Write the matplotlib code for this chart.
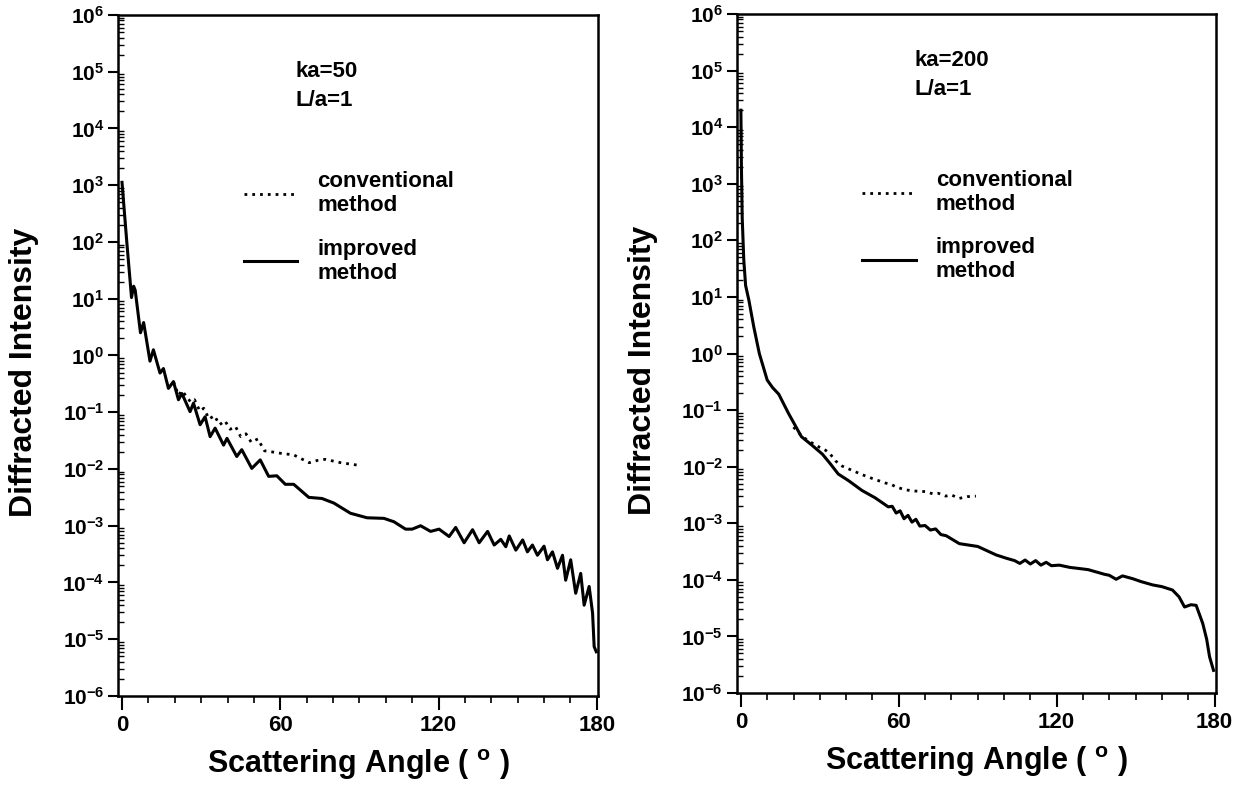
import matplotlib
matplotlib.use("Agg")
import matplotlib.pyplot as plt
import numpy as np
from matplotlib.ticker import LogLocator, MultipleLocator, NullFormatter

plt.rcParams["font.family"] = "Liberation Sans"
plt.rcParams["font.weight"] = "bold"
plt.rcParams["axes.labelweight"] = "bold"
plt.rcParams["mathtext.fontset"] = "custom"
plt.rcParams["mathtext.rm"] = "Liberation Sans:bold"
plt.rcParams["mathtext.bf"] = "Liberation Sans:bold"
plt.rcParams["mathtext.default"] = "bf"

# ---- ka=50 panel (angle in degrees, log10 of intensity) ----
KA50_IMP_ANGLE = [0, 0.6, 1.9, 3.0, 3.6, 4.4, 5.0, 7.0, 8.2, 10.6, 11.9, 14.4, 15.7,
                  17.6, 19.5, 21.4, 22.7, 25.8, 27.1, 29.6, 31.5, 33.4, 35.3, 38.5,
                  39.8, 43.5, 45.4, 49.2, 52.4, 55.6, 58.7, 61.9, 65.1, 70.8, 75.8,
                  80.3, 86.6, 92.9, 99.3, 103.1, 107.5, 110.0, 113.2, 117.0, 120.2,
                  124.0, 126.5, 129.7, 132.9, 135.4, 138.6, 141.1, 143.6, 145.5,
                  146.8, 149.3, 151.9, 153.7, 155.6, 157.5, 160.0, 161.3, 163.2,
                  165.1, 167.0, 168.2, 170.1, 172.0, 173.9, 175.2, 177.1, 178.4,
                  179.0, 179.8]
KA50_IMP_LOG = [3.05, 2.70, 1.95, 1.35, 1.02, 1.22, 1.15, 0.40, 0.58, -0.10, 0.10,
                -0.31, -0.23, -0.58, -0.46, -0.78, -0.67, -0.99, -0.84, -1.22,
                -1.08, -1.43, -1.28, -1.58, -1.46, -1.78, -1.66, -1.99, -1.84,
                -2.13, -2.12, -2.27, -2.27, -2.50, -2.52, -2.60, -2.78, -2.86,
                -2.87, -2.93, -3.06, -3.06, -3.00, -3.10, -3.06, -3.19, -3.03,
                -3.30, -3.07, -3.30, -3.10, -3.34, -3.24, -3.37, -3.18, -3.43,
                -3.25, -3.46, -3.34, -3.52, -3.36, -3.60, -3.46, -3.75, -3.52,
                -3.96, -3.60, -4.19, -3.84, -4.40, -4.07, -4.54, -5.13, -5.22]

KA50_CONV_ANGLE = [19.5, 21.4, 22.7, 24.6, 26.0, 27.5, 29.5, 31.0, 33.0, 35.0, 37.0,
                   39.0, 41.0, 43.0, 45.0, 47.0, 49.0, 51.5, 54.0, 57.0, 61.0, 65.0,
                   68.0, 71.0, 74.0, 77.0, 80.0, 83.0, 86.0, 89.0]
KA50_CONV_LOG = [-0.46, -0.70, -0.62, -0.73, -0.82, -0.78, -0.98, -0.93, -1.12,
                 -1.06, -1.22, -1.15, -1.30, -1.25, -1.43, -1.38, -1.53, -1.47,
                 -1.68, -1.70, -1.73, -1.75, -1.82, -1.89, -1.85, -1.83, -1.86,
                 -1.89, -1.91, -1.93]

# ---- ka=200 panel ----
KA200_IMP_ANGLE = [0, 0.2, 0.5, 1.1, 1.8, 3.0, 4.9, 7.0, 10.0, 12.0, 14.4, 18.0,
                   23.0, 27.0, 31.0, 34.0, 37.0, 41.0, 46.0, 51.0, 56.0, 57.5, 59.0,
                   60.5, 62.0, 63.5, 65.0, 66.5, 68.0, 70.0, 72.0, 74.0, 76.0, 78.0,
                   83.0, 90.0, 97.0, 101.0, 104.0, 106.0, 108.0, 110.0, 112.0,
                   114.0, 116.0, 118.0, 121.0, 125.0, 128.6, 132.0, 135.0, 138.0,
                   140.0, 142.6, 145.0, 148.9, 152.0, 156.5, 160.0, 164.0, 166.5,
                   168.6, 171.0, 173.0, 175.5, 177.0, 178.1, 179.6]
KA200_IMP_LOG = [4.30, 3.30, 2.40, 1.65, 1.20, 0.95, 0.47, 0.00, -0.47, -0.60,
                 -0.72, -1.05, -1.47, -1.62, -1.78, -1.95, -2.13, -2.25, -2.42,
                 -2.55, -2.71, -2.70, -2.82, -2.78, -2.92, -2.86, -2.98, -2.93,
                 -3.05, -3.04, -3.12, -3.10, -3.20, -3.22, -3.36, -3.41, -3.56,
                 -3.62, -3.66, -3.71, -3.65, -3.72, -3.66, -3.74, -3.69, -3.75,
                 -3.74, -3.78, -3.80, -3.82, -3.86, -3.90, -3.92, -3.99, -3.93,
                 -3.98, -4.03, -4.09, -4.12, -4.18, -4.30, -4.48, -4.44, -4.45,
                 -4.77, -5.05, -5.36, -5.60]

KA200_CONV_ANGLE = [20.0, 23.3, 27.0, 30.0, 32.2, 34.0, 36.0, 38.5, 42.0, 46.0,
                    50.0, 55.0, 57.0, 59.0, 62.6, 66.0, 70.0, 73.0, 75.0, 77.8,
                    80.0, 83.0, 86.0, 89.3]
KA200_CONV_LOG = [-1.30, -1.47, -1.58, -1.66, -1.71, -1.78, -1.90, -1.99, -2.06,
                  -2.14, -2.21, -2.29, -2.31, -2.36, -2.41, -2.43, -2.44, -2.48,
                  -2.47, -2.52, -2.50, -2.56, -2.53, -2.52]

PANELS = [
    ("ka=50", KA50_IMP_ANGLE, KA50_IMP_LOG, KA50_CONV_ANGLE, KA50_CONV_LOG),
    ("ka=200", KA200_IMP_ANGLE, KA200_IMP_LOG, KA200_CONV_ANGLE, KA200_CONV_LOG),
]
AX_RECTS = [[0.0949, 0.1145, 0.3859, 0.8665], [0.5924, 0.1183, 0.3850, 0.8639]]
TEXT_Y = [0.895, 0.91]

fig = plt.figure(figsize=(12.44, 7.86), dpi=100)

for rect, ty, (ka, ia, il, ca, cl) in zip(AX_RECTS, TEXT_Y, PANELS):
    ax = fig.add_axes(rect)
    ax.plot(ca, 10.0 ** np.array(cl), color="black", lw=2.0, ls=(0, (1, 1.8)),
            label="conventional\nmethod")
    ax.plot(ia, 10.0 ** np.array(il), color="black", lw=2.2,
            label="improved\nmethod")
    ax.set_yscale("log")
    ax.set_xlim(-1.5, 180.5)
    ax.set_ylim(1e-6, 1e6)
    ax.xaxis.set_major_locator(MultipleLocator(60))
    ax.xaxis.set_minor_locator(MultipleLocator(10))
    ax.yaxis.set_major_locator(LogLocator(base=10, numticks=20))
    ax.yaxis.set_minor_locator(LogLocator(base=10, subs=np.arange(2, 10), numticks=20))
    ax.yaxis.set_minor_formatter(NullFormatter())
    ax.tick_params(axis="x", which="major", direction="out", length=10, width=1.5,
                   labelsize=16, pad=4)
    ax.tick_params(axis="x", which="minor", direction="out", length=5, width=1.2)
    ax.tick_params(axis="y", which="major", direction="out", length=7, width=1.5,
                   labelsize=15, pad=3)
    ax.tick_params(axis="y", which="minor", direction="in", length=4, width=1.0)
    for sp in ax.spines.values():
        sp.set_linewidth(1.8)
    ax.set_xlabel("Scattering Angle ( $^{o}$ )", fontsize=22, labelpad=8)
    ax.set_ylabel("Diffracted Intensity", fontsize=23)
    ax.yaxis.set_label_coords(-0.165, 0.475)

    ax.text(0.37, ty, ka + "\nL/a=1", transform=ax.transAxes, fontsize=16,
            va="center", ha="left", linespacing=1.5)
    ax.legend(loc="upper left", bbox_to_anchor=(0.22, 0.80), frameon=False,
              fontsize=16, handlelength=2.4, handletextpad=0.9, labelspacing=1.0)

fig.savefig("out.png", dpi=100)
